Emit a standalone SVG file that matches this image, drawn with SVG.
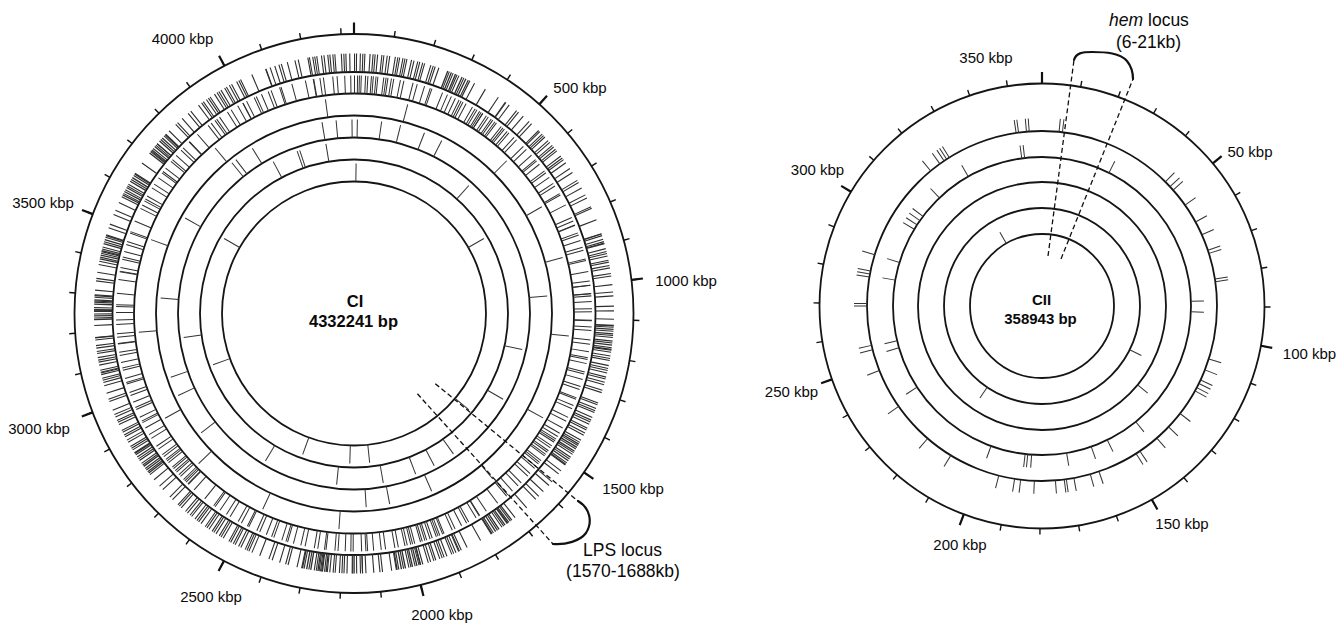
<svg xmlns="http://www.w3.org/2000/svg" xmlns:xlink="http://www.w3.org/1999/xlink" width="1337" height="624" viewBox="0 0 1337 624">
<style>
text{font-family:"Liberation Sans",Arial,sans-serif;fill:#0a0a0a}
.lbl{font-size:15px;text-anchor:middle}
.big{font-size:17.5px;text-anchor:middle}
.ttl{font-weight:bold;text-anchor:middle}
.ring{fill:none;stroke:#151515;stroke-width:1.8}
.f{fill:none;stroke:#2e2e2e}
.b2{stroke-width:18.5}
.b3{stroke-width:18}
.tk{stroke:#333;stroke-width:1}
.maj{stroke:#111;stroke-width:2.2}
.min{fill:none;stroke:#111}
.dash{fill:none;stroke:#111;stroke-width:1.3;stroke-dasharray:5 3}
.arc{fill:none;stroke:#111;stroke-width:2.2;stroke-linecap:round}
.D1{stroke-dasharray:0.25 0.2 0.25 0.6 0.25 0.3 0.25 0.2 0.25 0.9 0.25 0.4 0.25 0.2 0.25 0.3 0.25 0.7 0.25 0.2 0.25 0.5 0.25 0.3 0.25 1 0.25 0.3 0.25 400}
.D2{stroke-dasharray:0.25 0.5 0.25 0.2 0.25 0.2 0.25 0.8 0.25 0.3 0.25 0.6 0.25 0.2 0.25 0.4 0.25 0.2 0.25 1.2 0.25 0.3 0.25 0.2 0.25 0.6 0.25 400}
.D3{stroke-dasharray:0.3 0.1 0.25 0.2 0.3 0.15 0.25 0.3 0.3 0.1 0.25 0.2 0.25 0.5 0.3 0.15 0.25 0.2 0.3 0.3 0.25 0.1 0.3 400}
.M1{stroke-dasharray:0.25 1.4 0.25 0.6 0.25 2 0.25 0.8 0.25 1.6 0.25 1.2 0.25 400}
.M2{stroke-dasharray:0.25 0.8 0.25 1.8 0.25 0.3 0.25 1.1 0.25 1.5 0.25 0.5 0.25 1.9 0.25 400}
.S1{stroke-dasharray:0.25 2.5 0.25 3.1 0.25 1.8 0.25 400}
</style>
<defs>
<line id="l4" y1="-198" y2="-216"/>
<line id="l5" y1="-176" y2="-194"/>
<line id="l6" y1="-154" y2="-172"/>
<line id="l7" y1="-132" y2="-150"/>
<line id="lM" y1="-279.5" y2="-291"/>
<line id="r2" y1="-175" y2="-188"/>
<line id="r3" y1="-149" y2="-162"/>
<line id="r4" y1="-124" y2="-137"/>
<line id="r5" y1="-98" y2="-111"/>
<line id="r6" y1="-72" y2="-85"/>
<line id="rM" y1="-222.5" y2="-234"/>
</defs>
<rect width="1337" height="624" fill="#fff"/>

<g id="map-CI">
<g id="ci-rings" class="ring">
<circle cx="354" cy="313.5" r="279.5"/>
<circle cx="354" cy="313.5" r="241.5"/>
<circle cx="354" cy="313.5" r="220"/>
<circle cx="354" cy="313.5" r="198"/>
<circle cx="354" cy="313.5" r="176"/>
<circle cx="354" cy="313.5" r="154"/>
<circle cx="354" cy="313.5" r="132"/>
</g>
<g id="ci-scale" transform="translate(354,313.5)">
<circle class="min" r="282.5" stroke-width="6" pathLength="4332.241" stroke-dasharray="3.5 96.5" stroke-dashoffset="1.75" transform="rotate(-90)"/>
<g class="maj">
<use href="#lM"/><use href="#lM" transform="rotate(41.547)"/><use href="#lM" transform="rotate(83.094)"/><use href="#lM" transform="rotate(124.641)"/><use href="#lM" transform="rotate(166.188)"/><use href="#lM" transform="rotate(207.735)"/><use href="#lM" transform="rotate(249.282)"/><use href="#lM" transform="rotate(290.829)"/><use href="#lM" transform="rotate(332.376)"/>
</g>
</g>
<g id="ci-track2" class="f b2" transform="translate(354,313.5)">
<circle r="250.75" pathLength="360" class="D1" transform="rotate(-90)"/>
<circle r="250.75" pathLength="360" class="D2" transform="rotate(-80)"/>
<circle r="250.75" pathLength="360" class="D3" transform="rotate(-69)"/>
<circle r="250.75" pathLength="360" class="S1" transform="rotate(-62.5)"/>
<circle r="250.75" pathLength="360" class="M2" transform="rotate(-54.5)"/>
<circle r="250.75" pathLength="360" class="D2" transform="rotate(-44.5)"/>
<circle r="250.75" pathLength="360" class="M2" transform="rotate(-34)"/>
<circle r="250.75" pathLength="360" class="S1" transform="rotate(-24)"/>
<circle r="250.75" pathLength="360" class="D1" transform="rotate(-18)"/>
<circle r="250.75" pathLength="360" class="M1" transform="rotate(-6.5)"/>
<circle r="250.75" pathLength="360" class="D3" transform="rotate(2.5)"/>
<circle r="250.75" pathLength="360" class="D1" transform="rotate(8)"/>
<circle r="250.75" pathLength="360" class="D1" transform="rotate(20)"/>
<circle r="250.75" pathLength="360" class="D3" transform="rotate(30)"/>
<circle r="250.75" pathLength="360" class="M1" transform="rotate(35.5)"/>
<circle r="250.75" pathLength="360" class="S1" transform="rotate(45.5)"/>
<circle r="250.75" pathLength="360" class="D3" transform="rotate(52.5)"/>
<circle r="250.75" pathLength="360" class="S1" transform="rotate(58)"/>
<circle r="250.75" pathLength="360" class="D1" transform="rotate(65.5)"/>
<circle r="250.75" pathLength="360" class="D3" transform="rotate(75)"/>
<circle r="250.75" pathLength="360" class="M2" transform="rotate(80.5)"/>
<circle r="250.75" pathLength="360" class="D1" transform="rotate(88)"/>
<circle r="250.75" pathLength="360" class="D3" transform="rotate(96)"/>
<circle r="250.75" pathLength="360" class="M2" transform="rotate(101.5)"/>
<circle r="250.75" pathLength="360" class="D2" transform="rotate(113)"/>
<circle r="250.75" pathLength="360" class="D1" transform="rotate(122.5)"/>
<circle r="250.75" pathLength="360" class="M1" transform="rotate(132.5)"/>
<circle r="250.75" pathLength="360" class="D3" transform="rotate(142)"/>
<circle r="250.75" pathLength="360" class="D2" transform="rotate(147.5)"/>
<circle r="250.75" pathLength="360" class="M2" transform="rotate(157)"/>
<circle r="250.75" pathLength="360" class="D1" transform="rotate(165)"/>
<circle r="250.75" pathLength="360" class="S1" transform="rotate(174.5)"/>
<circle r="250.75" pathLength="360" class="D3" transform="rotate(178.5)"/>
<circle r="250.75" pathLength="360" class="M2" transform="rotate(184)"/>
<circle r="250.75" pathLength="360" class="D3" transform="rotate(192)"/>
<circle r="250.75" pathLength="360" class="M1" transform="rotate(197.5)"/>
<circle r="250.75" pathLength="360" class="D3" transform="rotate(207)"/>
<circle r="250.75" pathLength="360" class="S1" transform="rotate(212.5)"/>
<circle r="250.75" pathLength="360" class="D3" transform="rotate(218)"/>
<circle r="250.75" pathLength="360" class="M2" transform="rotate(223.5)"/>
<circle r="250.75" pathLength="360" class="D1" transform="rotate(234)"/>
<circle r="250.75" pathLength="360" class="S1" transform="rotate(244)"/>
<circle r="250.75" pathLength="360" class="M2" transform="rotate(250)"/>
<circle r="250.75" pathLength="360" class="D2" transform="rotate(260)"/>
</g>
<g id="ci-track3" class="f b3" transform="translate(354,313.5)">
<circle r="229" pathLength="360" class="D2" transform="rotate(-90)"/>
<circle r="229" pathLength="360" class="M1" transform="rotate(-80.5)"/>
<circle r="229" pathLength="360" class="S1" transform="rotate(-71)"/>
<circle r="229" pathLength="360" class="M2" transform="rotate(-67)"/>
<circle r="229" pathLength="360" class="D2" transform="rotate(-59)"/>
<circle r="229" pathLength="360" class="M1" transform="rotate(-49.5)"/>
<circle r="229" pathLength="360" class="M2" transform="rotate(-40)"/>
<circle r="229" pathLength="360" class="S1" transform="rotate(-30)"/>
<circle r="229" pathLength="360" class="M2" transform="rotate(-23)"/>
<circle r="229" pathLength="360" class="S1" transform="rotate(-13)"/>
<circle r="229" pathLength="360" class="M2" transform="rotate(-8)"/>
<circle r="229" pathLength="360" class="M1" transform="rotate(1.5)"/>
<circle r="229" pathLength="360" class="M2" transform="rotate(11)"/>
<circle r="229" pathLength="360" class="M1" transform="rotate(21)"/>
<circle r="229" pathLength="360" class="D2" transform="rotate(31)"/>
<circle r="229" pathLength="360" class="M1" transform="rotate(40.5)"/>
<circle r="229" pathLength="360" class="S1" transform="rotate(50)"/>
<circle r="229" pathLength="360" class="M2" transform="rotate(58)"/>
<circle r="229" pathLength="360" class="D2" transform="rotate(68)"/>
<circle r="229" pathLength="360" class="M1" transform="rotate(77.5)"/>
<circle r="229" pathLength="360" class="M2" transform="rotate(87)"/>
<circle r="229" pathLength="360" class="M1" transform="rotate(97)"/>
<circle r="229" pathLength="360" class="M2" transform="rotate(106.5)"/>
<circle r="229" pathLength="360" class="M1" transform="rotate(116.5)"/>
<circle r="229" pathLength="360" class="S1" transform="rotate(126)"/>
<circle r="229" pathLength="360" class="D2" transform="rotate(134)"/>
<circle r="229" pathLength="360" class="M1" transform="rotate(143.5)"/>
<circle r="229" pathLength="360" class="M2" transform="rotate(153)"/>
<circle r="229" pathLength="360" class="M2" transform="rotate(163)"/>
<circle r="229" pathLength="360" class="M1" transform="rotate(172.5)"/>
<circle r="229" pathLength="360" class="S1" transform="rotate(182)"/>
<circle r="229" pathLength="360" class="M2" transform="rotate(190)"/>
<circle r="229" pathLength="360" class="S1" transform="rotate(200)"/>
<circle r="229" pathLength="360" class="M1" transform="rotate(207)"/>
<circle r="229" pathLength="360" class="M2" transform="rotate(216.5)"/>
<circle r="229" pathLength="360" class="S1" transform="rotate(226)"/>
<circle r="229" pathLength="360" class="M1" transform="rotate(233)"/>
<circle r="229" pathLength="360" class="M2" transform="rotate(242)"/>
<circle r="229" pathLength="360" class="S1" transform="rotate(252)"/>
<circle r="229" pathLength="360" class="M1" transform="rotate(260)"/>
</g>
<g id="ci-sparse" class="tk" transform="translate(354,313.5)">
<use href="#l4" transform="rotate(14.4)"/><use href="#l4" transform="rotate(45)"/><use href="#l4" transform="rotate(60.4)"/><use href="#l4" transform="rotate(75)"/><use href="#l4" transform="rotate(96)"/><use href="#l4" transform="rotate(118.9)"/><use href="#l4" transform="rotate(140)"/><use href="#l4" transform="rotate(184)"/><use href="#l4" transform="rotate(205)"/><use href="#l4" transform="rotate(226)"/><use href="#l4" transform="rotate(241)"/><use href="#l4" transform="rotate(265)"/><use href="#l4" transform="rotate(290)"/><use href="#l4" transform="rotate(320)"/><use href="#l4" transform="rotate(352.4)"/>
<use href="#l5" transform="rotate(350.5)"/><use href="#l5" transform="rotate(354.7)"/><use href="#l5" transform="rotate(359.4)"/><use href="#l5" transform="rotate(1)"/><use href="#l5" transform="rotate(8.2)"/><use href="#l5" transform="rotate(13.9)"/><use href="#l5" transform="rotate(21.3)"/><use href="#l5" transform="rotate(26.9)"/><use href="#l5" transform="rotate(84.8)"/><use href="#l5" transform="rotate(156.4)"/><use href="#l5" transform="rotate(169.4)"/><use href="#l5" transform="rotate(176.4)"/><use href="#l5" transform="rotate(232)"/><use href="#l5" transform="rotate(245)"/><use href="#l5" transform="rotate(250.8)"/><use href="#l5" transform="rotate(274.6)"/><use href="#l5" transform="rotate(299.5)"/><use href="#l5" transform="rotate(321)"/><use href="#l5" transform="rotate(322.5)"/><use href="#l5" transform="rotate(328.4)"/>
<use href="#l6" transform="rotate(41.9)"/><use href="#l6" transform="rotate(102.1)"/><use href="#l6" transform="rotate(119.9)"/><use href="#l6" transform="rotate(144.7)"/><use href="#l6" transform="rotate(152.2)"/><use href="#l6" transform="rotate(159)"/><use href="#l6" transform="rotate(170.2)"/><use href="#l6" transform="rotate(185.8)"/><use href="#l6" transform="rotate(211)"/><use href="#l6" transform="rotate(262)"/><use href="#l6" transform="rotate(332)"/><use href="#l6" transform="rotate(340.7)"/><use href="#l6" transform="rotate(341.6)"/><use href="#l6" transform="rotate(350.6)"/>
<use href="#l7" transform="rotate(0.8)"/><use href="#l7" transform="rotate(60)"/><use href="#l7" transform="rotate(130)"/><use href="#l7" transform="rotate(174)"/><use href="#l7" transform="rotate(181.6)"/><use href="#l7" transform="rotate(200)"/><use href="#l7" transform="rotate(250)"/><use href="#l7" transform="rotate(300)"/>
</g>
<g id="ci-labels">
<text class="lbl" x="182.5" y="44">4000 kbp</text>
<text class="lbl" x="580" y="93">500 kbp</text>
<text class="lbl" x="43" y="208">3500 kbp</text>
<text class="lbl" x="686" y="286">1000 kbp</text>
<text class="lbl" x="39" y="434">3000 kbp</text>
<text class="lbl" x="633" y="494">1500 kbp</text>
<text class="lbl" x="211" y="602">2500 kbp</text>
<text class="lbl" x="442" y="620">2000 kbp</text>
<text class="ttl" x="355" y="306.5" font-size="16.5">CI</text>
<text class="ttl" x="353.5" y="327" font-size="16.5">4332241 bp</text>
</g>
<g id="lps-locus">
<path class="arc" d="M578,501 C590,508 593,522 586,533 C580,541 566,545 553,544"/>
<text class="big" x="622.5" y="556">LPS locus</text>
<text class="big" x="623" y="577">(1570-1688kb)</text>
</g>
</g>

<g id="map-CII">
<g id="cii-rings" class="ring">
<circle cx="1042" cy="306" r="222.5"/>
<circle cx="1042" cy="306" r="175"/>
<circle cx="1042" cy="306" r="149"/>
<circle cx="1042" cy="306" r="124"/>
<circle cx="1042" cy="306" r="98"/>
<circle cx="1042" cy="306" r="72"/>
</g>
<g id="cii-scale" transform="translate(1042,306)">
<circle class="min" r="225.5" stroke-width="6" pathLength="358.943" stroke-dasharray="0.35 9.65" stroke-dashoffset="0.175" transform="rotate(-90)"/>
<g class="maj">
<use href="#rM"/><use href="#rM" transform="rotate(50.147)"/><use href="#rM" transform="rotate(100.294)"/><use href="#rM" transform="rotate(150.441)"/><use href="#rM" transform="rotate(200.588)"/><use href="#rM" transform="rotate(250.735)"/><use href="#rM" transform="rotate(300.882)"/>
</g>
</g>
<g id="cii-features" class="tk" transform="translate(1042,306)">
<use href="#r2" transform="rotate(351.5)"/><use href="#r2" transform="rotate(352.3)"/><use href="#r2" transform="rotate(354.9)"/><use href="#r2" transform="rotate(355.8)"/><use href="#r2" transform="rotate(5.6)"/><use href="#r2" transform="rotate(6.7)"/><use href="#r2" transform="rotate(44.8)"/><use href="#r2" transform="rotate(47)"/><use href="#r2" transform="rotate(48.5)"/><use href="#r2" transform="rotate(54.8)"/><use href="#r2" transform="rotate(61.3)"/><use href="#r2" transform="rotate(66)"/><use href="#r2" transform="rotate(71.4)"/><use href="#r2" transform="rotate(72.5)"/><use href="#r2" transform="rotate(81.1)"/><use href="#r2" transform="rotate(82)"/><use href="#r2" transform="rotate(107.6)"/><use href="#r2" transform="rotate(111.4)"/><use href="#r2" transform="rotate(115)"/><use href="#r2" transform="rotate(116.3)"/><use href="#r2" transform="rotate(117.8)"/><use href="#r2" transform="rotate(119)"/><use href="#r2" transform="rotate(127.9)"/><use href="#r2" transform="rotate(133.7)"/><use href="#r2" transform="rotate(139)"/><use href="#r2" transform="rotate(146)"/><use href="#r2" transform="rotate(147.5)"/><use href="#r2" transform="rotate(161)"/><use href="#r2" transform="rotate(164)"/><use href="#r2" transform="rotate(169.5)"/><use href="#r2" transform="rotate(172)"/><use href="#r2" transform="rotate(172.7)"/><use href="#r2" transform="rotate(175.6)"/><use href="#r2" transform="rotate(182.5)"/><use href="#r2" transform="rotate(187)"/><use href="#r2" transform="rotate(189)"/><use href="#r2" transform="rotate(194.3)"/><use href="#r2" transform="rotate(211.4)"/><use href="#r2" transform="rotate(220.8)"/><use href="#r2" transform="rotate(235)"/><use href="#r2" transform="rotate(248.4)"/><use href="#r2" transform="rotate(255.5)"/><use href="#r2" transform="rotate(257)"/><use href="#r2" transform="rotate(270)"/><use href="#r2" transform="rotate(270.8)"/><use href="#r2" transform="rotate(279.5)"/><use href="#r2" transform="rotate(280.5)"/><use href="#r2" transform="rotate(281.5)"/><use href="#r2" transform="rotate(287)"/><use href="#r2" transform="rotate(320.5)"/><use href="#r2" transform="rotate(324.3)"/><use href="#r2" transform="rotate(326)"/><use href="#r2" transform="rotate(327)"/><use href="#r2" transform="rotate(328)"/>
<use href="#r3" transform="rotate(352.2)"/><use href="#r3" transform="rotate(353.3)"/><use href="#r3" transform="rotate(26.7)"/><use href="#r3" transform="rotate(88.2)"/><use href="#r3" transform="rotate(92.2)"/><use href="#r3" transform="rotate(141)"/><use href="#r3" transform="rotate(154)"/><use href="#r3" transform="rotate(160.7)"/><use href="#r3" transform="rotate(170.5)"/><use href="#r3" transform="rotate(184)"/><use href="#r3" transform="rotate(185.5)"/><use href="#r3" transform="rotate(186.5)"/><use href="#r3" transform="rotate(200)"/><use href="#r3" transform="rotate(237)"/><use href="#r3" transform="rotate(253.7)"/><use href="#r3" transform="rotate(256.5)"/><use href="#r3" transform="rotate(280)"/><use href="#r3" transform="rotate(287)"/><use href="#r3" transform="rotate(301)"/><use href="#r3" transform="rotate(303)"/><use href="#r3" transform="rotate(305)"/><use href="#r3" transform="rotate(307)"/><use href="#r3" transform="rotate(316.5)"/><use href="#r3" transform="rotate(330.3)"/>
<use href="#r4" transform="rotate(129.5)"/>
<use href="#r5" transform="rotate(116.5)"/><use href="#r5" transform="rotate(214)"/>
<use href="#r6" transform="rotate(330.3)"/>
</g>
<g id="cii-labels">
<text class="lbl" x="986" y="63">350 kbp</text>
<text class="lbl" x="1250" y="157">50 kbp</text>
<text class="lbl" x="817.5" y="175">300 kbp</text>
<text class="lbl" x="1309.5" y="359">100 kbp</text>
<text class="lbl" x="791.5" y="397">250 kbp</text>
<text class="lbl" x="1182" y="529">150 kbp</text>
<text class="lbl" x="960" y="550">200 kbp</text>
<text class="ttl" x="1041.5" y="305" font-size="15">CII</text>
<text class="ttl" x="1040.5" y="323.5" font-size="15">358943 bp</text>
</g>
<g id="hem-locus">
<path class="arc" d="M1074,60 C1076,53 1082,52 1092,52 C1106,52 1120,53 1127,61 C1131,66 1133,72 1133,79"/>
<text class="big" x="1149" y="26"><tspan font-style="italic">hem</tspan> locus</text>
<text class="big" x="1148.5" y="48">(6-21kb)</text>
</g>
</g>

<g id="connectors" class="dash">
<line x1="435.3" y1="383.7" x2="578" y2="501"/>
<line x1="417.4" y1="393.8" x2="553" y2="544"/>
<line x1="1048" y1="256" x2="1074" y2="60"/>
<line x1="1061" y1="259" x2="1133" y2="79"/>
</g>
</svg>
